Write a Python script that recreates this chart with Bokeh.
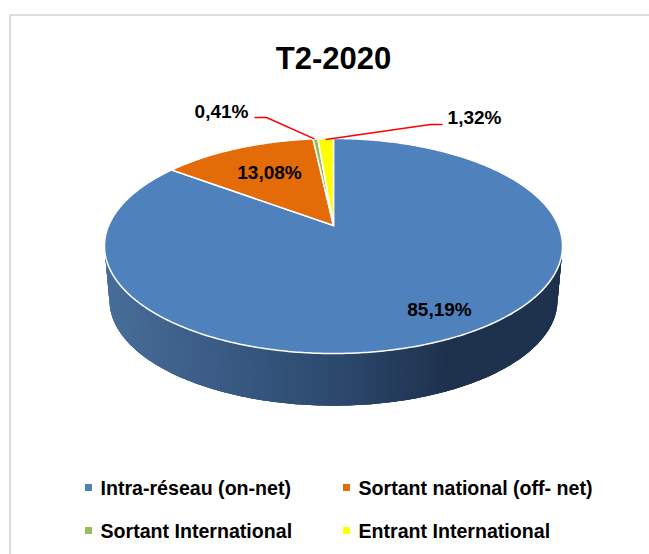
import numpy as np
from bokeh.plotting import figure
from bokeh.embed import file_html
from bokeh.resources import INLINE
from bokeh.core.properties import value
from bokeh.models import Range1d

title = "T2-2020"
categories = ["Intra-réseau (on-net)", "Sortant national (off- net)", "Sortant International", "Entrant International"]
values = [85.19, 13.08, 0.41, 1.32]
labels = ["85,19%", "13,08%", "0,41%", "1,32%"]
colors = ["#4f81bd", "#e36c09", "#9bbb59", "#ffff00"]
FONT = "Liberation Sans"

CX, AY = 333.0, 225.0
A, B, K = 224.8, 103.6, 0.1908
DEPTH, SHRINK = 54.5, 0.978
CY = 245.5


def project(theta):
    X, Y = np.sin(theta), np.cos(theta)
    d = 1 + K * Y
    return CX + A * X / d, AY - B * Y / d


def lower(x, y):
    return CX + (x - CX) * SHRINK, CY + DEPTH + (y - CY) * SHRINK


p = figure(width=649, height=554, output_backend="svg", toolbar_location=None,
           x_range=Range1d(0, 649), y_range=Range1d(554, 0), min_border=0)
p.axis.visible = False
p.grid.visible = False
p.outline_line_color = None
p.background_fill_color = "white"

# chart frame
p.line([9.5, 9.5, 649], [554, 14.5, 14.5], line_color="#dcdcdc", line_width=2)

# side wall of the pie (near half), gradient by horizontal position
stop_x = [104, 200, 333, 450, 562]
stop_c = np.array([[72, 110, 153], [60, 94, 136], [45, 74, 110], [30, 50, 78], [30, 50, 78]], float)
th = np.radians(np.linspace(270, 90, 181))
tx, ty = project(th)
bx, by = lower(tx, ty)
for i in range(len(th) - 1):
    j2 = min(i + 3, len(th) - 1)
    xm = (tx[i] + tx[i + 1]) / 2
    c = [int(np.interp(xm, stop_x, stop_c[:, j])) for j in range(3)]
    col = "#%02x%02x%02x" % tuple(c)
    p.patch(np.r_[tx[i:j2 + 1], bx[i:j2 + 1][::-1]], np.r_[ty[i:j2 + 1], by[i:j2 + 1][::-1]],
            fill_color=col, line_color=None)

# top face: clockwise from 12 o'clock
cum = np.concatenate([[0], np.cumsum(values)]) / 100 * 2 * np.pi
for i, col in enumerate(colors):
    t = np.linspace(cum[i], cum[i + 1], max(3, int(values[i] * 6)))
    x, y = project(t)
    p.patch(np.r_[CX, x], np.r_[AY, y], fill_color=col, line_color="white", line_width=1.5,
            line_join="miter")

# label positions and leaders
tstyle = dict(text_font=value(FONT), text_font_style="bold", text_color="black",
              text_align="center", text_baseline="middle")
p.text([439], [309], text=[labels[0]], text_font_size="19px", **tstyle)
p.text([269], [172], text=[labels[1]], text_font_size="19px", **tstyle)
p.text([221], [111], text=[labels[2]], text_font_size="19px", **tstyle)
p.text([474], [117], text=[labels[3]], text_font_size="19px", **tstyle)

mid_g = (cum[2] + cum[3]) / 2
mid_y = (cum[3] + cum[4]) / 2
gx, gy = project(mid_g)
yx, yy = project(mid_y)
p.line([254, 266, gx - 1], [117, 117, gy], line_color="#ff0000", line_width=1.5)
p.line([442, 430, yx], [124, 124, yy + 1], line_color="#ff0000", line_width=1.5)

# title
p.text([333], [58], text=[title], text_font_size="31px", **tstyle)

# legend
lx = [88, 346, 88, 346]
ly = [487, 487, 530, 530]
for i, c in enumerate(categories):
    p.scatter([lx[i]], [ly[i]], marker="square", size=7, fill_color=colors[i], line_color=None)
    p.text([lx[i] + 12], [ly[i]], text=[c], text_font=value(FONT), text_font_style="bold",
           text_font_size="19.6px", text_color="black", text_align="left", text_baseline="middle")

open("out.html", "w").write(file_html(p, INLINE))
